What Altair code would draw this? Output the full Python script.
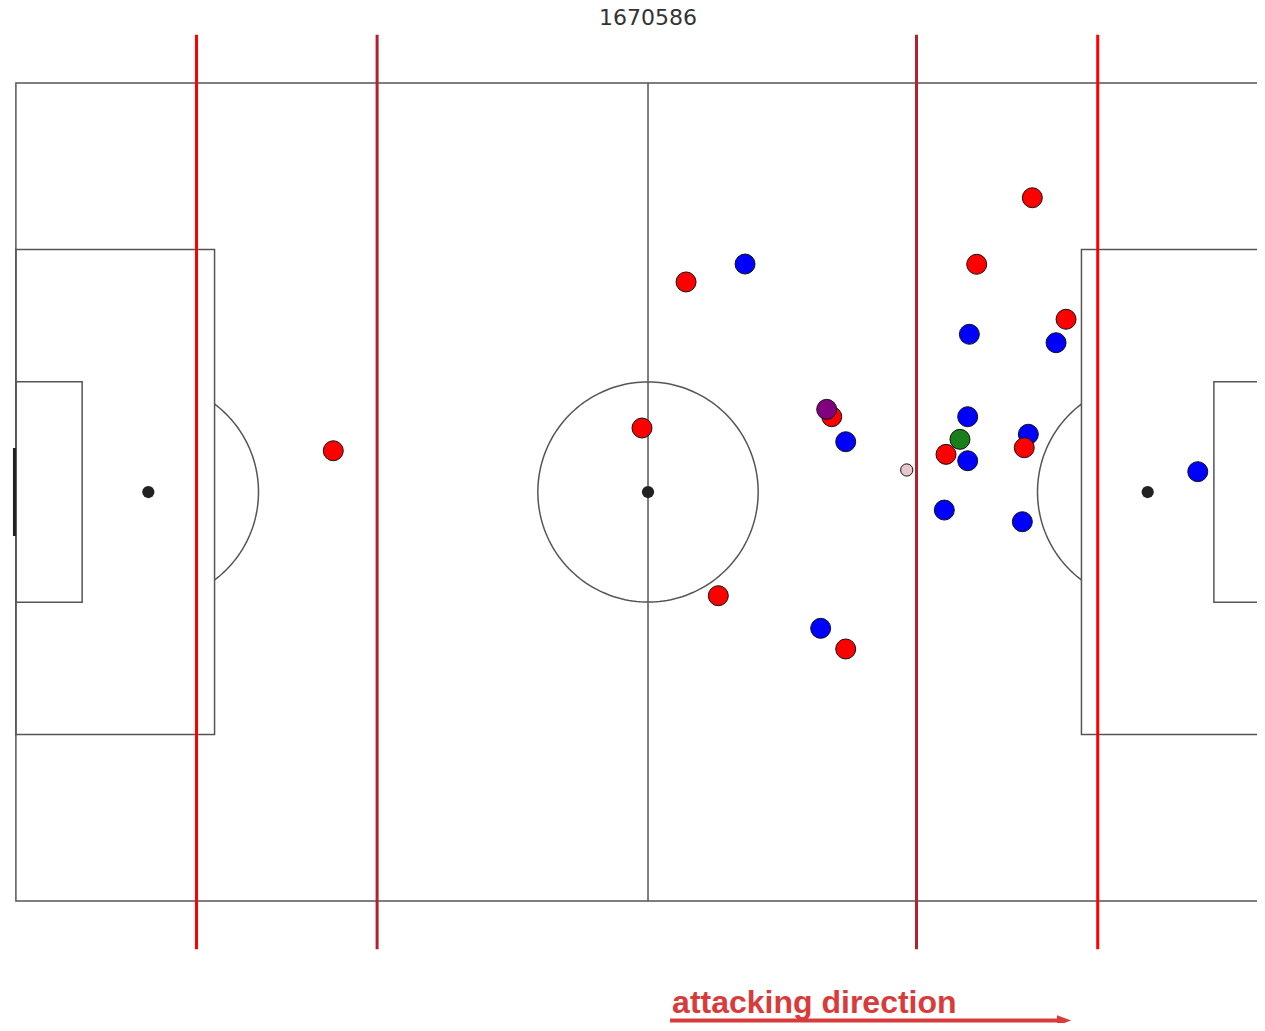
import altair as alt
import numpy as np
import pandas as pd

# ---------------- data ----------------
title_text = "1670586"
direction_text = "attacking direction"

red_x = [3.16, -0.50, -26.14, 15.26, 5.84, 16.42, 31.92, 27.30, 34.72, 24.75, 31.25]
red_y = [17.46, 5.32, 3.43, 6.26, -8.62, -13.05, 24.46, 18.93, 14.36, 3.13, 3.68]

blue_x = [8.06, 16.42, 14.34, 26.69, 33.89, 26.55, 31.59, 26.55, 24.61, 31.09, 45.66]
blue_y = [18.95, 4.18, -11.33, 13.11, 12.41, 6.26, 4.80, 2.60, -1.50, -2.47, 1.69]

purple_x = [14.84]
purple_y = [6.87]
green_x = [25.91]
green_y = [4.38]
ball_x = [21.49]
ball_y = [1.83]

# vertical marker lines (x in metres from centre)
outer_lines_x = [-37.5, 37.35]
inner_lines_x = [-22.5, 22.3]
line_y_extent = [-38.0, 38.0]

# pitch dimensions (metres)
L, W = 105.0, 68.0
box_depth, box_half_w = 16.5, 20.16
six_depth, six_half_w = 5.5, 9.16
spot_dist, circle_r = 11.0, 9.15
goal_half_w = 3.66

# ---------------- scales ----------------
xmin, xmax = -53.156, 50.58
ymin, ymax = -44.139, 40.233
PLOT_W, PLOT_H = 1249, 1015

xs = alt.Scale(domain=[xmin, xmax], nice=False, zero=False)
ys = alt.Scale(domain=[ymin, ymax], nice=False, zero=False)
X = lambda f="x": alt.X(f"{f}:Q", scale=xs, axis=None)
Y = lambda f="y": alt.Y(f"{f}:Q", scale=ys, axis=None)

LINE_COL = "#555555"
hl, hw = L / 2, W / 2

# rectangles: pitch outline, penalty boxes, goal areas
rects = pd.DataFrame({
    "x": [-hl, -hl, hl - box_depth, -hl, hl - six_depth],
    "x2": [hl, -hl + box_depth, hl, -hl + six_depth, hl],
    "y": [-hw, -box_half_w, -box_half_w, -six_half_w, -six_half_w],
    "y2": [hw, box_half_w, box_half_w, six_half_w, six_half_w],
})
rect_layer = alt.Chart(rects).mark_rect(
    fill="white", fillOpacity=0, stroke=LINE_COL, strokeWidth=1.5, clip=True
).encode(x=X("x"), x2="x2", y=Y("y"), y2="y2")

halfway = alt.Chart(pd.DataFrame({"x": [0.0], "y": [-hw], "y2": [hw]})).mark_rule(
    color=LINE_COL, strokeWidth=1.5
).encode(x=X("x"), y=Y("y"), y2="y2")

goal = alt.Chart(pd.DataFrame({"x": [-hl - 0.12], "y": [-goal_half_w], "y2": [goal_half_w]})).mark_rule(
    color="#222222", strokeWidth=3
).encode(x=X("x"), y=Y("y"), y2="y2")

# circles / arcs (pitch geometry)
arc_lim = np.degrees(np.arccos((box_depth - spot_dist) / circle_r))
pieces = []
t = np.linspace(0, 360, 181)
pieces.append(pd.DataFrame({"x": circle_r * np.cos(np.radians(t)),
                            "y": circle_r * np.sin(np.radians(t)),
                            "piece": "centre", "o": np.arange(len(t))}))
t = np.linspace(-arc_lim, arc_lim, 61)
pieces.append(pd.DataFrame({"x": -hl + spot_dist + circle_r * np.cos(np.radians(t)),
                            "y": circle_r * np.sin(np.radians(t)),
                            "piece": "left", "o": np.arange(len(t))}))
pieces.append(pd.DataFrame({"x": hl - spot_dist - circle_r * np.cos(np.radians(t)),
                            "y": circle_r * np.sin(np.radians(t)),
                            "piece": "right", "o": np.arange(len(t))}))
arcs = pd.concat(pieces, ignore_index=True)
arc_layer = alt.Chart(arcs).mark_line(color=LINE_COL, strokeWidth=1.5, clip=True).encode(
    x=X("x"), y=Y("y"), detail="piece:N", order="o:Q")

spots = pd.DataFrame({"x": [0.0, -hl + spot_dist, hl - spot_dist], "y": [0.0, 0.0, 0.0]})
spot_layer = alt.Chart(spots).mark_circle(color="#222222", size=150, opacity=1).encode(
    x=X("x"), y=Y("y"))

# vertical marker lines
vl = pd.DataFrame({
    "x": outer_lines_x + inner_lines_x,
    "y": [line_y_extent[0]] * 4,
    "y2": [line_y_extent[1]] * 4,
    "c": ["#ff0000", "#ff0000", "#b2222e", "#b2222e"],
})
vline_layer = alt.Chart(vl).mark_rule(strokeWidth=3).encode(
    x=X("x"), y=Y("y"), y2="y2", color=alt.Color("c:N", scale=None))

# players
def players(xv, yv, col, size=400):
    df = pd.DataFrame({"x": xv, "y": yv})
    return alt.Chart(df).mark_circle(
        color=col, size=size, opacity=1, stroke="#111111", strokeWidth=1
    ).encode(x=X("x"), y=Y("y"))

green_layer = players(green_x, green_y, "#1a7f1a")
blue_layer = players(blue_x, blue_y, "#0000ff")
red_layer = players(red_x, red_y, "#ff0000")
purple_layer = players(purple_x, purple_y, "#800080")
ball_layer = players(ball_x, ball_y, "#e8c8cc", size=150)

# annotations
title_layer = alt.Chart(pd.DataFrame({"x": [0.0], "y": [38.86], "t": [title_text]})).mark_text(
    font="DejaVu Sans", fontSize=22, color="#333333", baseline="alphabetic", align="center"
).encode(x=X("x"), y=Y("y"), text="t:N")

dir_layer = alt.Chart(pd.DataFrame({"x": [2.0], "y": [-43.31], "t": [direction_text]})).mark_text(
    font="Liberation Sans", fontSize=32, fontWeight="bold", color="#d93b3b",
    baseline="alphabetic", align="left"
).encode(x=X("x"), y=Y("y"), text="t:N")

arrow_line = alt.Chart(pd.DataFrame({"x": [1.83], "x2": [34.0], "y": [-43.93]})).mark_rule(
    color="#d93b3b", strokeWidth=4
).encode(x=X("x"), x2="x2", y=Y("y"))

arrow_head = alt.Chart(pd.DataFrame({"x": [34.55], "y": [-43.93]})).mark_point(
    shape="M-1,-0.75L1,0L-1,0.75Z", filled=True, size=200, color="#d93b3b", opacity=1
).encode(x=X("x"), y=Y("y"))

chart = alt.layer(
    rect_layer, halfway, goal, arc_layer, spot_layer, vline_layer,
    green_layer, blue_layer, red_layer, purple_layer, ball_layer,
    title_layer, dir_layer, arrow_line, arrow_head,
).properties(
    width=PLOT_W, height=PLOT_H, padding=0, autosize=alt.AutoSizeParams(type="none"),
    background="white",
).configure_view(stroke=None)

chart.save("out.html", embed_options={"renderer": "svg", "actions": False})
